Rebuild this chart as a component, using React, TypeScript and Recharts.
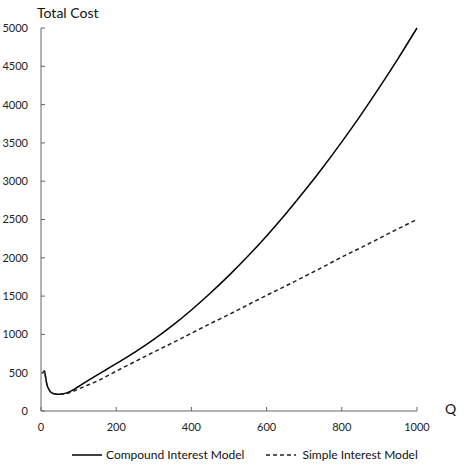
import { LineChart, Line, XAxis, YAxis } from 'recharts';

// Q values and the two cost curves
const qValues = [4, 9, 12, 15, 20, 25, 30, 40, 50, 60, 75, 100, 125, 150, 175, 200, 250, 300, 350, 400, 450, 500, 550, 600, 650, 700, 750, 800, 850, 900, 950, 1000];
const compoundCost = [490, 522, 450, 361, 290, 252, 234, 221, 218, 224, 250, 320, 398, 472, 545, 618, 768, 934, 1117, 1319, 1537, 1771, 2020, 2286, 2569, 2868, 3183, 3514, 3860, 4224, 4604, 5000];
const simpleCost = [490, 522, 450, 361, 290, 252, 234, 221, 218, 221, 238, 288, 340, 392, 455, 520, 645, 770, 890, 1015, 1140, 1260, 1385, 1510, 1630, 1755, 1880, 2010, 2130, 2255, 2380, 2500];

const xTicks = [0, 200, 400, 600, 800, 1000];
const yTicks = [0, 500, 1000, 1500, 2000, 2500, 3000, 3500, 4000, 4500, 5000];

const data = qValues.map((q, i) => ({ q, compound: compoundCost[i], simple: simpleCost[i] }));

const FONT = 'Lato, "Liberation Sans", sans-serif';
const tickStyle = { fontSize: 11, fill: '#222', fontFamily: FONT };

export default function App() {
  return (
    <div style={{ position: 'absolute', left: 0, top: 0, width: 474, height: 474, background: '#fff', fontFamily: FONT }}>
      <LineChart width={474} height={474} data={data} margin={{ top: 28, right: 57, left: 0, bottom: 43 }}>
        <XAxis
          dataKey="q"
          type="number"
          domain={[0, 1000]}
          ticks={xTicks}
          tick={tickStyle}
          tickSize={-4}
          tickMargin={16}
          stroke="#666"
          height={20}
        />
        <YAxis
          type="number"
          domain={[0, 5000]}
          ticks={yTicks}
          tick={tickStyle}
          tickSize={-4}
          tickMargin={17}
          stroke="#666"
          width={41}
        />
        <Line
          dataKey="compound"
          type="monotone"
          stroke="#000"
          strokeWidth={1.5}
          dot={false}
          isAnimationActive={false}
        />
        <Line
          dataKey="simple"
          type="monotone"
          stroke="#222"
          strokeWidth={1.5}
          strokeDasharray="4 3"
          dot={false}
          isAnimationActive={false}
        />
      </LineChart>
      <div style={{ position: 'absolute', left: 37, top: 4, fontSize: 14, color: '#111' }}>Total Cost</div>
      <div style={{ position: 'absolute', left: 445, top: 400, fontSize: 14, color: '#111' }}>Q</div>
      <div style={{ position: 'absolute', left: 72, top: 447, fontSize: 12, color: '#111', display: 'flex', alignItems: 'center' }}>
        <svg width={30} height={10}><line x1={0} y1={5} x2={30} y2={5} stroke="#000" strokeWidth={1.5} /></svg>
        <span style={{ marginLeft: 4 }}>Compound Interest Model</span>
        <svg width={30} height={10} style={{ marginLeft: 22 }}><line x1={0} y1={5} x2={30} y2={5} stroke="#222" strokeWidth={1.5} strokeDasharray="4 3" /></svg>
        <span style={{ marginLeft: 6 }}>Simple Interest Model</span>
      </div>
    </div>
  );
}
